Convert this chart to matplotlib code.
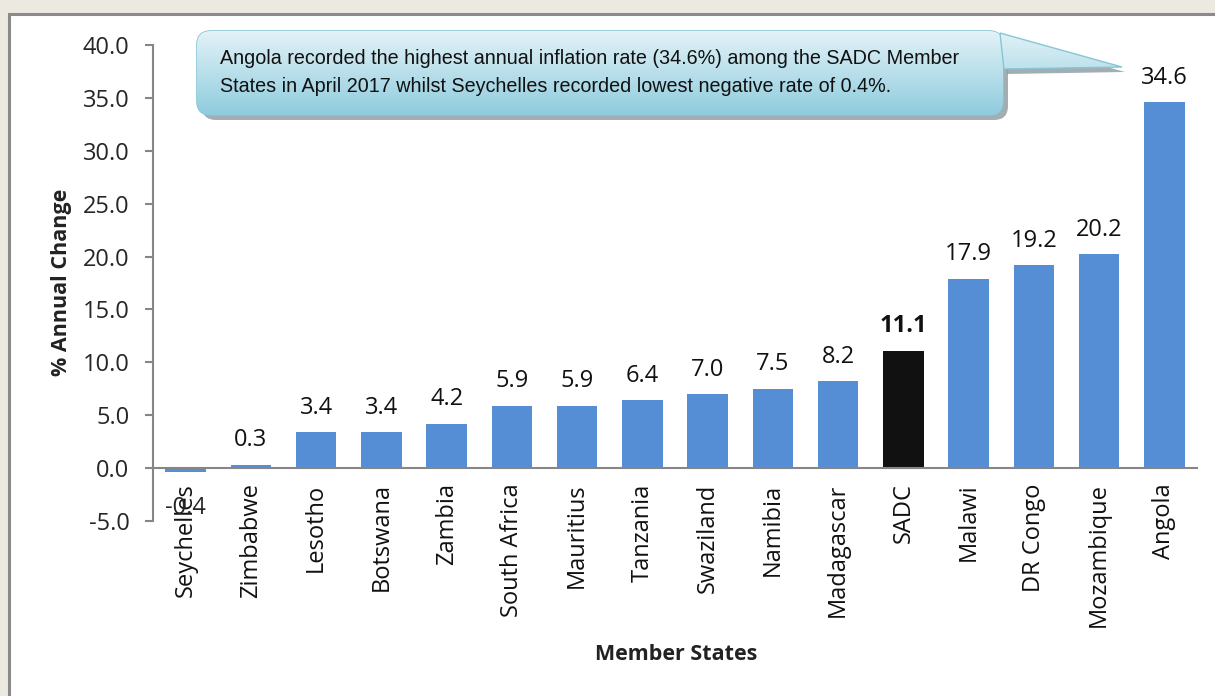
import numpy as np
import matplotlib
matplotlib.use("Agg")
import matplotlib.pyplot as plt
from matplotlib.patches import Rectangle, FancyBboxPatch, Polygon

# chart data
states = ["Seychelles", "Zimbabwe", "Lesotho", "Botswana", "Zambia", "South Africa",
          "Mauritius", "Tanzania", "Swaziland", "Namibia", "Madagascar", "SADC",
          "Malawi", "DR Congo", "Mozambique", "Angola"]
inflation = [-0.4, 0.3, 3.4, 3.4, 4.2, 5.9, 5.9, 6.4, 7.0, 7.5, 8.2, 11.1,
             17.9, 19.2, 20.2, 34.6]
yticks = [-5.0, 0.0, 5.0, 10.0, 15.0, 20.0, 25.0, 30.0, 35.0, 40.0]
note = ("Angola recorded the highest annual inflation rate (34.6%) among the SADC Member\n"
        "States in April 2017 whilst Seychelles recorded lowest negative rate of 0.4%.")

BLUE = "#558ed5"
GREY = "#868686"
W, H = 1215, 696

plt.rcParams["font.family"] = ["Open Sans", "DejaVu Sans"]

fig = plt.figure(figsize=(W / 100, H / 100), dpi=100)
fig.patch.set_facecolor("#eceae0")

# background panel (pixel coords)
bg = fig.add_axes([0, 0, 1, 1], zorder=0)
bg.set_xlim(0, W)
bg.set_ylim(H, 0)
bg.axis("off")
bg.add_patch(Rectangle((9, 14), W + 20, H + 20, facecolor="white",
                       edgecolor="#8a8a8a", lw=2.2))

# main chart
ax = fig.add_axes([153 / W, 1 - 521 / H, (1197 - 153) / W, (521 - 45) / H], zorder=1)
ax.patch.set_alpha(0)
x = np.arange(len(states))
colors = ["#111111" if s == "SADC" else BLUE for s in states]
ax.bar(x, inflation, width=0.62, color=colors, zorder=2)

ax.set_xlim(-0.5, len(states) - 0.5)
ax.set_ylim(-5, 40)
ax.set_yticks(yticks)
ax.set_yticklabels([f"{v:.1f}" for v in yticks], fontsize=17, color="#262626")
ax.tick_params(axis="y", direction="out", length=6, width=1.5, color=GREY, pad=11)

ax.spines["top"].set_visible(False)
ax.spines["right"].set_visible(False)
ax.spines["left"].set_color(GREY)
ax.spines["left"].set_linewidth(1.5)
ax.spines["bottom"].set_position(("data", 0))
ax.spines["bottom"].set_color(GREY)
ax.spines["bottom"].set_linewidth(1.5)

ax.set_xticks(x)
ax.set_xticklabels(states, rotation=90, fontsize=17, color="#111111", va="top")
ax.tick_params(axis="x", length=0, pad=11)

for xi, v, s in zip(x, inflation, states):
    if v < 0:
        ax.annotate(f"{v:.1f}", (xi, v), xytext=(0, -17), textcoords="offset points",
                    ha="center", va="top", fontsize=17, color="#262626")
    else:
        ax.annotate(f"{v:.1f}", (xi, v), xytext=(0, 9), textcoords="offset points",
                    ha="center", va="bottom", fontsize=17, color="#111111",
                    fontweight="bold" if s == "SADC" else "normal")

fig.text(62 / W, 1 - 282 / H, "% Annual Change", rotation=90, ha="center", va="center",
         fontsize=15.5, fontweight="bold", color="#222222")
fig.text(676 / W, 1 - 655 / H, "Member States", ha="center", va="center",
         fontsize=15.5, fontweight="bold", color="#222222")

# callout box
fg = fig.add_axes([0, 0, 1, 1], zorder=3)
fg.set_xlim(0, W)
fg.set_ylim(H, 0)
fg.axis("off")

box = (197, 31, 806, 84)  # x, y, w, h in pixels
tail = [(1000, 33), (1122, 67), (1004, 69)]
sh = 5
fg.add_patch(FancyBboxPatch((box[0] + sh, box[1] + sh), box[2], box[3],
                            boxstyle="round,pad=0,rounding_size=14",
                            facecolor="#8c9aa0", edgecolor="none", alpha=0.8))
fg.add_patch(Polygon([(px + sh - 2, py + sh) for px, py in tail],
                     facecolor="#8c9aa0", edgecolor="none", alpha=0.8))

grad = np.linspace(0, 1, 256).reshape(-1, 1)
top_c = np.array([0.89, 0.95, 0.97])
bot_c = np.array([0.56, 0.80, 0.87])
img = top_c + (bot_c - top_c) * grad[..., None]
img = img.reshape(256, 1, 3)

rect = FancyBboxPatch((box[0], box[1]), box[2], box[3],
                      boxstyle="round,pad=0,rounding_size=14",
                      facecolor="none", edgecolor="#86c6d6", lw=1.2)
tri = Polygon(tail, facecolor="none", edgecolor="none")
fg.add_patch(rect)
fg.add_patch(tri)
for patch in (rect, tri):
    im = fg.imshow(img, extent=(box[0], 1130, box[1] + box[3], box[1]),
                   aspect="auto", zorder=1)
    im.set_clip_path(patch)
fg.add_patch(Polygon(tail, facecolor="none", edgecolor="#86c6d6", lw=1.0, zorder=2))

fg.text(220, 73, note, ha="left", va="center", fontsize=14.2, linespacing=1.6,
        color="#111111", family=["Liberation Sans Narrow", "Liberation Sans", "DejaVu Sans"],
        zorder=4)
fg.set_xlim(0, W)
fg.set_ylim(H, 0)

fig.savefig("out.png", dpi=100, facecolor=fig.get_facecolor())
